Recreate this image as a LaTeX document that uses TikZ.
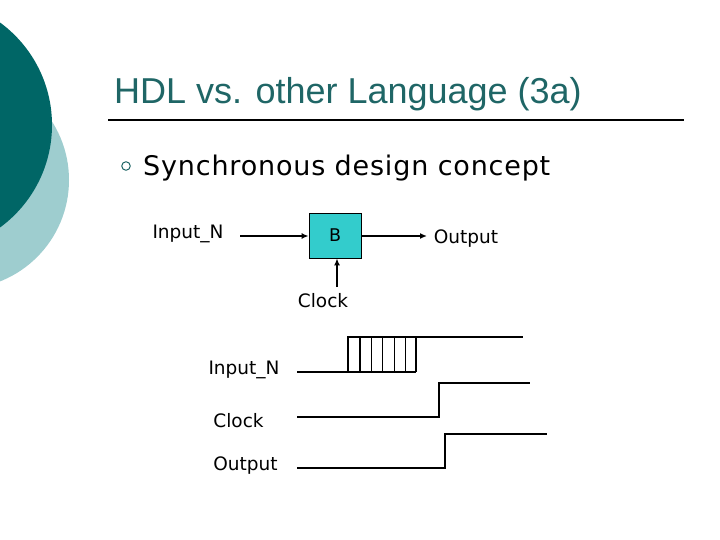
\documentclass[tikz,border=0pt]{standalone}
\usepackage{fontspec}
\setmainfont{DejaVu Sans}
\newfontfamily\titlefont{Liberation Sans}
\newfontfamily\spacedfont[LetterSpace=3]{DejaVu Sans}
\usetikzlibrary{arrows.meta}
\definecolor{darkteal}{RGB}{0,102,102}
\definecolor{lightteal}{RGB}{158,205,207}
\definecolor{titleteal}{RGB}{31,102,102}
\definecolor{boxfill}{RGB}{51,204,204}
\begin{document}
\begin{tikzpicture}[x=1pt,y=-1pt,
  lbl/.style={font=\fontsize{18.5}{21}\selectfont, inner sep=0},
  conn/.style={line width=1.6pt, -{Latex[length=7pt,width=6pt]}},
  wave/.style={line width=1.3pt}]
\useasboundingbox (0,0) rectangle (720,540);
\fill[white] (0,0) rectangle (720,540);
% background circles
\fill[lightteal] (-40,180) circle[radius=109];
\fill[darkteal] (-75,125) circle[radius=127];
% title
\node[anchor=base west, inner sep=0, font=\titlefont\fontsize{36}{40}\selectfont, text=titleteal] (title) at (114,104) {HDL vs. other Language (3a)};
\coordinate (ruleA) at (108,120);
\coordinate (ruleB) at (684,120);
\draw[line width=1.6pt] (ruleA) -- (ruleB);
% bullet
\node[circle, draw=titleteal, line width=1pt, minimum size=8.5pt, inner sep=0] (bul) at (126,166) {};
\node[anchor=base west, inner sep=0, font=\spacedfont\fontsize{27}{32}\selectfont] (sub) at (143,176) {Synchronous design concept};
% block diagram
\node[draw, line width=0.8pt, fill=boxfill, minimum width=52pt, minimum height=45pt, inner sep=0, font=\fontsize{17.5}{20}\selectfont] (B) at (335,235.5) {B};
\node[lbl] (inN) at (188,234) {Input\_N};
\coordinate (inS) at (240,236);
\draw[conn] (inS) -- (B.west |- inS);
\coordinate (outE) at (427,236);
\draw[conn] (B.east |- outE) -- (outE);
\node[lbl] (outL) at (466,239) {Output};
\node[lbl] (clk) at (323,301) {Clock};
\coordinate (clkS) at (337,287);
\draw[conn] (clkS) -- (clkS |- B.south);
% timing labels
\node[lbl] (tIn) at (244,370) {Input\_N};
\node[lbl] (tClk) at (238.5,421) {Clock};
\node[lbl] (tOut) at (245.5,466) {Output};
% input waveform
\coordinate (i0) at (297,372);
\coordinate (i1) at (348,372);
\coordinate (i2) at (348,337);
\coordinate (i3) at (523,337);
\coordinate (i4) at (416,372);
\draw[wave] (i0) -- (i1) -- (i2) -- (i3);
\draw[wave] (i1) -- (i4);
\foreach \xx in {360,371.7,382.7,394.3,405.7,416}
  \draw[wave] (\xx,337) -- (\xx,372);
% clock waveform
\coordinate (c0) at (297,417);
\coordinate (c1) at (439,417);
\coordinate (c2) at (439,383);
\coordinate (c3) at (530,383);
\draw[wave] (c0) -- (c1) -- (c2) -- (c3);
% output waveform
\coordinate (o0) at (297,468);
\coordinate (o1) at (445,468);
\coordinate (o2) at (445,434);
\coordinate (o3) at (547,434);
\draw[wave] (o0) -- (o1) -- (o2) -- (o3);
\end{tikzpicture}
\end{document}
